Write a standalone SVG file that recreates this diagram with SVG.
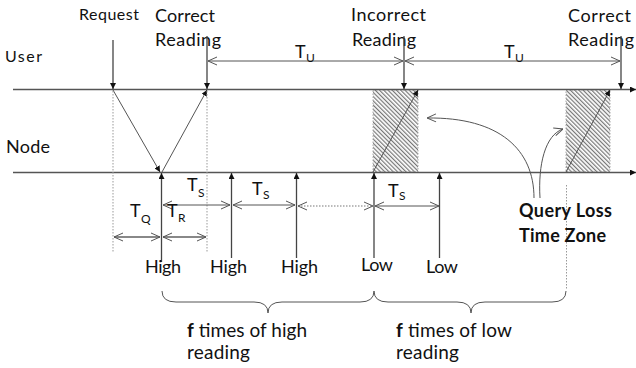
<svg xmlns="http://www.w3.org/2000/svg" width="636" height="368" viewBox="0 0 636 368">
<style>
text{font-family:Lato,"Open Sans","Liberation Sans",sans-serif;fill:#111}
.ln{stroke:#444;stroke-width:1.3;fill:none}
.ax{stroke:#555;stroke-width:1.3;fill:none}
.dim{stroke:#555;stroke-width:1;fill:none}
.dimg{stroke:#888;stroke-width:1.8;fill:none}
.dot{stroke:#999;stroke-width:1;stroke-dasharray:1.5 1.5;fill:none}
.dotb{stroke:#bbb;stroke-width:2;stroke-dasharray:1.5 1.5;fill:none}
.lbl{font-size:16px}
.big{font-size:18px}
.sub{font-size:12px}
.bold{font-size:18px;font-weight:bold}
</style>
<defs>
<marker id="tri" viewBox="0 0 10 10" refX="10" refY="5" markerWidth="6" markerHeight="6" markerUnits="userSpaceOnUse" orient="auto">
<path d="M0,0 L10,5 L0,10 Z" fill="#111"/>
</marker>
<marker id="open" viewBox="0 0 10 10" refX="10" refY="5" markerWidth="10" markerHeight="10" markerUnits="userSpaceOnUse" orient="auto-start-reverse">
<path d="M1,1 L10,5 L1,9" fill="none" stroke="#555" stroke-width="1"/>
</marker>
<pattern id="hatch" patternUnits="userSpaceOnUse" width="3" height="3" patternTransform="rotate(-45)">
<rect width="3" height="3" fill="#fff"/>
<rect width="1.2" height="3" fill="#777"/>
</pattern>
</defs>

<g id="zones">
<rect x="373" y="90" width="45" height="82" fill="url(#hatch)" stroke="#aaa" stroke-width="1" stroke-dasharray="1.5 1.5"/>
<rect x="566" y="90" width="44" height="82" fill="url(#hatch)" stroke="#aaa" stroke-width="1" stroke-dasharray="1.5 1.5"/>
</g>

<g id="timelines">
<line class="ax" x1="13" y1="89.5" x2="636" y2="89.5" marker-end="url(#tri)"/>
<line class="ax" x1="13" y1="172.5" x2="636" y2="172.5" marker-end="url(#tri)"/>
<text id="user" class="lbl" x="5" y="62" textLength="37" lengthAdjust="spacing">User</text>
<text id="node" class="big" x="6" y="153" textLength="44" lengthAdjust="spacing">Node</text>
</g>

<g id="top-labels">
<text class="lbl" x="79" y="20" textLength="60" lengthAdjust="spacing">Request</text>
<text class="big" x="155" y="22" textLength="60" lengthAdjust="spacing">Correct</text>
<text class="big" x="155" y="46" textLength="66" lengthAdjust="spacing">Reading</text>
<text class="big" x="351" y="21" textLength="75" lengthAdjust="spacing">Incorrect</text>
<text class="big" x="352" y="46" textLength="64" lengthAdjust="spacing">Reading</text>
<text class="big" x="568" y="22" textLength="63" lengthAdjust="spacing">Correct</text>
<text class="big" x="568" y="46" textLength="66" lengthAdjust="spacing">Reading</text>
</g>

<g id="connectors">
<line class="ln" x1="113" y1="40" x2="113" y2="89" marker-end="url(#tri)"/>
<line class="ln" x1="207" y1="36" x2="207" y2="89" marker-end="url(#tri)"/>
<line class="ln" x1="404" y1="36" x2="404" y2="89" marker-end="url(#tri)"/>
<line class="ln" x1="621" y1="36" x2="621" y2="89" marker-end="url(#tri)"/>
<line class="dim" x1="113" y1="90" x2="160" y2="172" marker-end="url(#tri)"/>
<line class="dim" x1="162" y1="172" x2="207" y2="90" marker-end="url(#tri)"/>
<line class="dim" x1="373" y1="172" x2="418" y2="90" marker-end="url(#tri)"/>
<line class="dim" x1="566" y1="172" x2="610" y2="90" marker-end="url(#tri)"/>
<line class="dot" x1="113" y1="91" x2="113" y2="253"/>
<line class="dot" x1="207" y1="91" x2="207" y2="253"/>
<line class="dot" x1="566.5" y1="185" x2="566.5" y2="290"/>
<line class="ln" x1="161.5" y1="262" x2="161.5" y2="173" marker-end="url(#tri)"/>
<line class="ln" x1="231.5" y1="258" x2="231.5" y2="173" marker-end="url(#tri)"/>
<line class="ln" x1="296.5" y1="258" x2="296.5" y2="173" marker-end="url(#tri)"/>
<line class="ln" x1="374" y1="258" x2="374" y2="173" marker-end="url(#tri)"/>
<line class="ln" x1="439.5" y1="258" x2="439.5" y2="173" marker-end="url(#tri)"/>
<line class="dim" x1="208" y1="61" x2="403" y2="61" marker-start="url(#open)" marker-end="url(#open)"/>
<line class="dim" x1="405" y1="61" x2="620" y2="61" marker-start="url(#open)" marker-end="url(#open)"/>
<line class="dim" x1="163" y1="205" x2="230" y2="205" marker-start="url(#open)" marker-end="url(#open)"/>
<line class="dim" x1="233" y1="205" x2="295" y2="205" marker-start="url(#open)" marker-end="url(#open)"/>
<line class="dotb" x1="298" y1="206" x2="373" y2="206" marker-start="url(#open)" marker-end="url(#open)"/>
<line class="dim" x1="375" y1="206" x2="439" y2="206" marker-start="url(#open)" marker-end="url(#open)"/>
<line class="dimg" x1="114" y1="237" x2="160" y2="237" marker-start="url(#open)" marker-end="url(#open)"/>
<line class="dimg" x1="163" y1="237" x2="206" y2="237" marker-start="url(#open)" marker-end="url(#open)"/>
<path class="dim" d="M534 198 C534 150 500 117 427 118" marker-end="url(#open)"/>
<path class="dim" d="M540 198 C538 165 545 135 563 129" marker-end="url(#open)"/>
<path class="dim" d="M162 291 Q162 302 176 302 L254 302 Q268 302 268 313 Q268 302 282 302 L360 302 Q374 302 374 291"/>
<path class="dim" d="M374 291 Q374 302 388 302 L457 302 Q471 302 471 313 Q471 302 485 302 L552 302 Q566 302 566 291"/>
</g>

<g id="time-labels">
<text class="big" x="295" y="58">T</text><text class="sub" x="306" y="62">U</text>
<text class="big" x="504" y="58">T</text><text class="sub" x="515" y="62">U</text>
<text class="big" x="187" y="191">T</text><text class="sub" x="198" y="197">S</text>
<text class="big" x="252" y="195">T</text><text class="sub" x="263" y="199">S</text>
<text class="big" x="388" y="197">T</text><text class="sub" x="399" y="200">S</text>
<text class="big" x="130" y="217">T</text><text class="sub" x="141" y="223">Q</text>
<text class="big" x="167" y="217">T</text><text class="sub" x="178" y="222">R</text>
</g>

<g id="readings">
<text class="big" x="145" y="273" textLength="36" lengthAdjust="spacing">High</text>
<text class="big" x="210" y="273" textLength="37" lengthAdjust="spacing">High</text>
<text class="big" x="281" y="273" textLength="37" lengthAdjust="spacing">High</text>
<text class="big" x="361" y="271" textLength="32" lengthAdjust="spacing">Low</text>
<text class="big" x="426" y="273" textLength="32" lengthAdjust="spacing">Low</text>
</g>

<g id="query-loss">
<text class="bold" x="519" y="217" textLength="93" lengthAdjust="spacing">Query Loss</text>
<text class="bold" x="519" y="242" textLength="87" lengthAdjust="spacing">Time Zone</text>
</g>

<g id="braces-labels">
<text style="font-size:19px" x="187" y="337" textLength="120" lengthAdjust="spacing"><tspan font-weight="bold">f</tspan> times of high</text>
<text style="font-size:19px" x="187" y="359" textLength="63" lengthAdjust="spacing">reading</text>
<text style="font-size:19px" x="396" y="337" textLength="116" lengthAdjust="spacing"><tspan font-weight="bold">f</tspan> times of low</text>
<text style="font-size:19px" x="396" y="359" textLength="63" lengthAdjust="spacing">reading</text>
</g>
</svg>
